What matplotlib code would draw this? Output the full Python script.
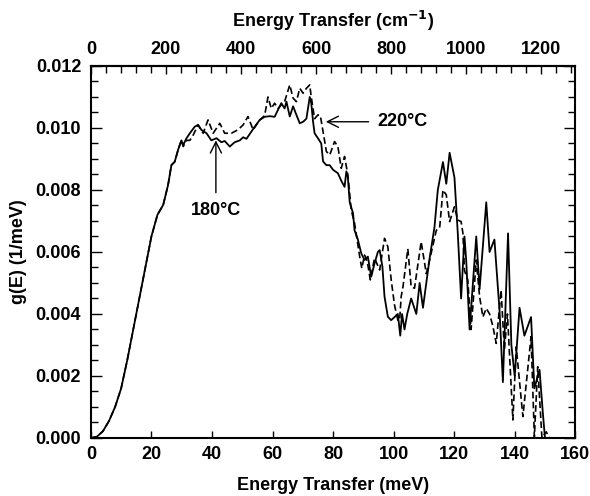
import numpy as np
import matplotlib.pyplot as plt
from matplotlib.ticker import MultipleLocator, FixedLocator

plt.rcParams['font.family'] = ['Liberation Sans', 'DejaVu Sans']
plt.rcParams['font.weight'] = 'bold'
plt.rcParams['mathtext.default'] = 'bf'

# 180 C (solid)
e_180 = [0, 2, 4, 6, 8, 10, 12, 14, 16, 18, 20, 22, 23.9, 25.5, 26.6, 27.7, 28.8, 29.9, 30.5,
         31.6, 32.7, 34.3, 35.4, 36.5, 38.2, 39.8, 41.5, 43.1, 44.2, 45.9, 47.5, 49.2, 50.3,
         51.4, 53.0, 54.1, 55.8, 57.4, 59.1, 60.7, 61.8, 62.9, 64.0, 64.6, 65.7, 66.8, 67.9,
         69.0, 70.1, 71.2, 72.3, 72.8, 73.4, 73.9, 75.0, 76.1, 76.7, 77.8, 78.9, 80.0, 81.6,
         82.7, 83.8, 84.4, 84.9, 85.5, 86.6, 87.1, 88.2, 89.3, 90.4, 91.5, 92.6, 93.7, 94.8,
         95.4, 96.3, 97.0, 98.1, 99.2, 100.3, 101.4, 102.2, 102.8, 103.6, 104.5, 105.8, 107.5,
         108.6, 109.7, 111.9, 113.5, 114.6, 116.3, 117.4, 118.5, 120.1, 121.2, 122.3, 123.4,
         124.0, 125.1, 127.3, 128.4, 130.6, 131.7, 133.3, 135.0, 136.1, 137.8, 138.9, 140.0,
         141.6, 143.2, 145.4, 146.5, 148.2, 149.3, 150.0]
g_180 = [0, 0.00004, 0.00022, 0.00055, 0.0010, 0.0016, 0.0025, 0.0035, 0.0045, 0.0055, 0.0065,
         0.0072, 0.00752, 0.00816, 0.0088, 0.00891, 0.00929, 0.0096, 0.00945, 0.00967, 0.00983,
         0.01004, 0.0101, 0.00994, 0.00983, 0.0096, 0.00967, 0.00954, 0.00958, 0.0094, 0.00954,
         0.0096, 0.0097, 0.00965, 0.00988, 0.01004, 0.01026, 0.01036, 0.01038, 0.01036, 0.01058,
         0.0108, 0.01063, 0.01085, 0.01037, 0.0107, 0.01042, 0.01015, 0.0102, 0.0103, 0.0110,
         0.0108, 0.0102, 0.00983, 0.00967, 0.0095, 0.00892, 0.0088, 0.0088, 0.00865, 0.00854,
         0.0083, 0.0081, 0.0086, 0.0084, 0.0076, 0.00725, 0.0067, 0.0064, 0.00596, 0.00574,
         0.00585, 0.0052, 0.00563, 0.0060, 0.00606, 0.00553, 0.00456, 0.00391, 0.0038, 0.0039,
         0.0040, 0.0033, 0.0040, 0.0035, 0.0040, 0.0045, 0.0040, 0.0050, 0.0042, 0.0058, 0.0068,
         0.0080, 0.0089, 0.0082, 0.0092, 0.0084, 0.0066, 0.0045, 0.0065, 0.0057, 0.0035, 0.0065,
         0.0048, 0.0076, 0.0060, 0.0064, 0.0041, 0.0018, 0.0066, 0.0030, 0.0020, 0.0042, 0.0033,
         0.0039, 0.0016, 0.0022, 0.0008, 0.0]

# 220 C (dashed)
e_220 = [0, 2, 4, 6, 8, 10, 12, 14, 16, 18, 20, 22, 23.9, 25.5, 26.6, 27.7, 28.8, 29.9, 30.5,
         31.6, 32.7, 33.8, 35.4, 37.1, 38.7, 40.4, 42.6, 44.2, 46.4, 48.6, 50.3, 51.9, 53.6,
         55.8, 57.4, 58.5, 59.6, 60.7, 61.8, 64.0, 65.7, 66.8, 67.9, 69.0, 70.1, 71.2, 72.3,
         72.8, 73.9, 75.0, 75.8, 76.7, 77.8, 78.9, 80.5, 81.6, 82.7, 83.8, 84.9, 86.0, 87.1,
         88.8, 89.5, 90.4, 91.3, 92.3, 93.7, 95.4, 97.0, 98.1, 99.2, 100.3, 101.4, 102.0, 102.5,
         103.1, 104.7, 105.8, 106.9, 109.1, 110.8, 111.9, 114.1, 115.2, 116.3, 117.4, 118.5,
         120.1, 121.2, 122.3, 122.9, 123.4, 124.5, 125.6, 127.3, 128.4, 129.5, 130.6, 131.7,
         132.8, 133.9, 135.5, 136.6, 137.6, 139.4, 140.5, 142.7, 145.4, 146.5, 147.6, 149.0,
         150.4, 151.5]
g_220 = [0, 0.00004, 0.00022, 0.00055, 0.0010, 0.0016, 0.0025, 0.0035, 0.0045, 0.0055, 0.0065,
         0.0072, 0.00752, 0.00816, 0.0088, 0.00891, 0.00929, 0.0096, 0.0094, 0.0096, 0.0096,
         0.00977, 0.0101, 0.00983, 0.01026, 0.00983, 0.01015, 0.00983, 0.00983, 0.00994, 0.0101,
         0.01037, 0.00994, 0.01026, 0.0104, 0.0110, 0.01063, 0.0108, 0.01063, 0.01085, 0.01139,
         0.01096, 0.01085, 0.01128, 0.01112, 0.01128, 0.01139, 0.0110, 0.0103, 0.01042, 0.0104,
         0.00988, 0.00924, 0.00913, 0.00956, 0.0094, 0.0087, 0.00908, 0.00848, 0.00735, 0.00693,
         0.00585, 0.00547, 0.0059, 0.0057, 0.0051, 0.0058, 0.00542, 0.00644, 0.00617, 0.0051,
         0.00429, 0.0038, 0.0038, 0.00456, 0.00488, 0.0061, 0.00488, 0.00483, 0.00633, 0.0053,
         0.00574, 0.0067, 0.00677, 0.0080, 0.00784, 0.00698, 0.00746, 0.00703, 0.00698, 0.0066,
         0.0054, 0.0051, 0.0035, 0.00574, 0.00456, 0.0039, 0.00418, 0.0040, 0.0036, 0.00305,
         0.00477, 0.00284, 0.0040, 0.00058, 0.00294, 0.00069, 0.00327, 0.00004, 0.0023, 0.0,
         0.0002, 0.0]

top_ticks = [0, 200, 400, 600, 800, 1000, 1200]
MEV_TO_CM = 8.0655

fig = plt.figure(figsize=(5.9, 4.96), dpi=100)
ax = fig.add_axes([0.154, 0.117, 0.821, 0.750])

ax.plot(e_180, g_180, color='black', lw=1.3)
ax.plot(e_220, g_220, color='black', lw=1.2, dashes=(4, 2))

ax.set_xlim(0, 160)
ax.set_ylim(0, 0.012)
ax.xaxis.set_major_locator(MultipleLocator(20))
ax.yaxis.set_major_locator(MultipleLocator(0.002))
ax.yaxis.set_minor_locator(MultipleLocator(0.0005))
ax.yaxis.set_major_formatter(plt.FormatStrFormatter('%.3f'))
ax.tick_params(axis='both', which='both', direction='in', labelsize=13)
ax.tick_params(axis='y', which='both', right=True)
ax.tick_params(axis='x', which='major', length=5, width=1, pad=6)
ax.tick_params(axis='y', which='major', length=8, width=1, pad=7)
ax.tick_params(axis='y', which='minor', length=5, width=1)
for s in ax.spines.values():
    s.set_linewidth(1.5)

ax.set_xlabel('Energy Transfer (meV)', fontsize=13, fontweight='bold', labelpad=10)
ax.set_ylabel('g(E) (1/meV)', fontsize=13, fontweight='bold', labelpad=6)

top = ax.secondary_xaxis('top', functions=(lambda x: x * MEV_TO_CM, lambda x: x / MEV_TO_CM))
top.xaxis.set_major_locator(FixedLocator(top_ticks))
top.xaxis.set_minor_locator(FixedLocator(np.arange(40, 1290, 40)))
top.tick_params(axis='x', which='both', direction='in', labelsize=13)
top.tick_params(axis='x', which='major', length=6, width=1, pad=6)
top.tick_params(axis='x', which='minor', length=5, width=1)
top.spines['top'].set_linewidth(1.5)
top.set_xlabel('Energy Transfer (cm$^{-1}$)', fontsize=13, fontweight='bold', labelpad=10)

ax.annotate('220°C', xy=(77.6, 0.0102), xytext=(94.5, 0.0102), fontsize=13, fontweight='bold',
            va='center', ha='left',
            arrowprops=dict(arrowstyle='->', color='black', lw=1, mutation_scale=20,
                            shrinkA=4, shrinkB=0))
ax.annotate('180°C', xy=(41.3, 0.0096), xytext=(41.3, 0.0076), fontsize=13, fontweight='bold',
            va='top', ha='center',
            arrowprops=dict(arrowstyle='->', color='black', lw=1, mutation_scale=20,
                            shrinkA=5, shrinkB=0))

fig.savefig('out.png', dpi=100)
